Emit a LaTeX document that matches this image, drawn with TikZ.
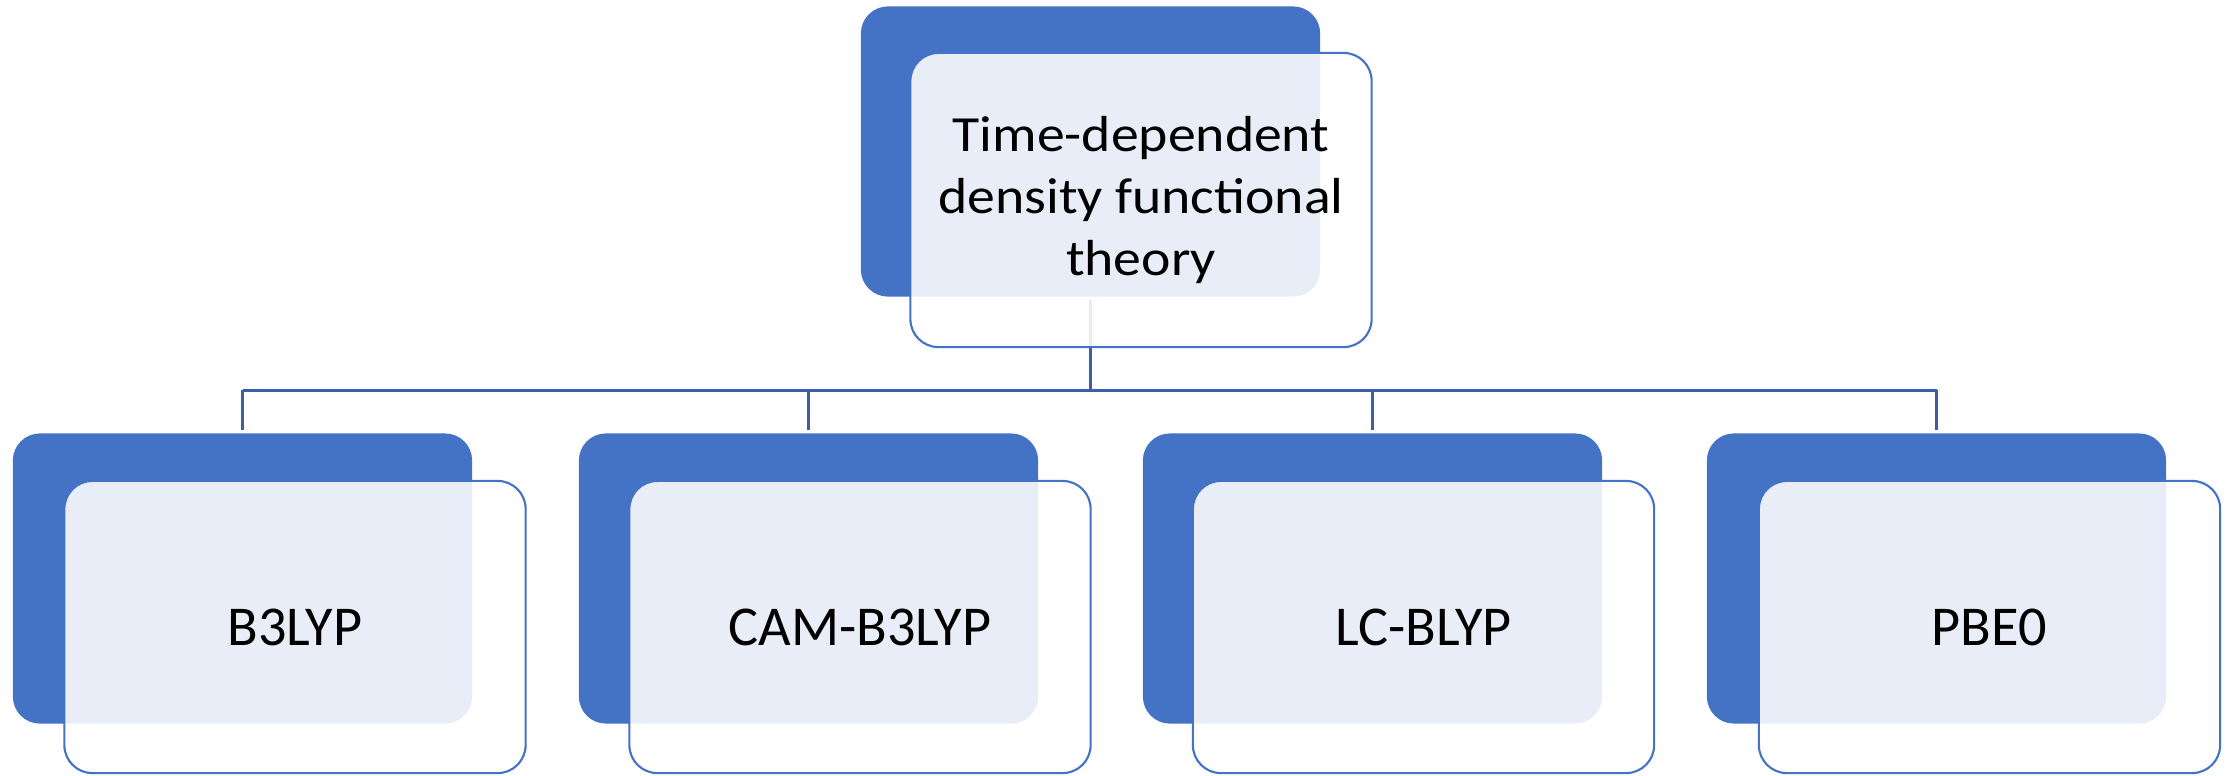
\documentclass[tikz,border=0pt]{standalone}
\usepackage{fontspec}
\setmainfont{Carlito}
\newfontfamily\widefont[FakeStretch=1.1]{Carlito}
\definecolor{accent}{HTML}{4472C4}
\definecolor{conn}{HTML}{3B5EA6}
\begin{document}
\begin{tikzpicture}[x=0.01cm,y=-0.01cm,
  backbox/.style={fill=accent, draw=none, rounded corners=0.27cm,
    minimum width=4.59cm, minimum height=2.90cm, inner sep=0pt},
  frontbox/.style={draw=accent, line width=0.6pt, fill=white, fill opacity=0.88,
    text opacity=1, rounded corners=0.28cm, minimum width=4.61cm,
    minimum height=2.92cm, inner sep=0pt, align=center, text=black,
    font=\fontsize{16pt}{19pt}\selectfont},
  topfront/.style={frontbox, minimum height=2.94cm,
    font=\widefont\fontsize{14.4pt}{17.7pt}\selectfont},
  link/.style={draw=conn, line width=0.85pt}]
\useasboundingbox (0,0) rectangle (2234,775);

% back boxes
\node[backbox] (tb) at (1090.5,151.5) {};
\node[backbox] (b1) at (242.5,578.5) {};
\node[backbox] (b2) at (808.5,578.5) {};
\node[backbox] (b3) at (1372.5,578.5) {};
\node[backbox] (b4) at (1936.5,578.5) {};

% connectors
\coordinate (bus) at (1090.5,390);
\draw[link, shorten <=0.03cm] (tb.south) -- (bus);
\draw[link] (b1.north |- bus) -- (b4.north |- bus);
\draw[link] (b1.north |- bus) -- ([yshift=0.03cm]b1.north);
\draw[link] (b2.north |- bus) -- ([yshift=0.03cm]b2.north);
\draw[link] (b3.north |- bus) -- ([yshift=0.03cm]b3.north);
\draw[link] (b4.north |- bus) -- ([yshift=0.03cm]b4.north);

% front boxes
\node[topfront] (tf) at (1141,200) {Time-dependent\\density functional\\theory};
\node[frontbox] (f1) at (295,627) {B3LYP};
\node[frontbox] (f2) at (860,627) {CAM-B3LYP};
\node[frontbox] (f3) at (1423.5,627) {LC-BLYP};
\node[frontbox] (f4) at (1989.5,627) {PBE0};
\end{tikzpicture}
\end{document}
